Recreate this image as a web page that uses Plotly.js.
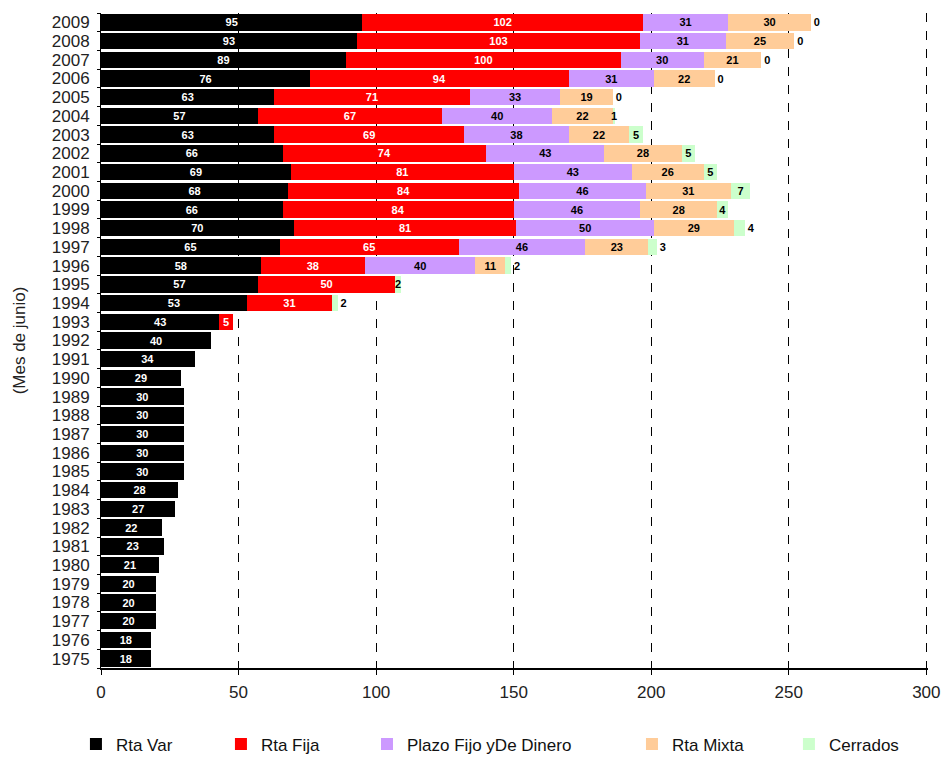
<!DOCTYPE html>
<html>
<head>
<meta charset="utf-8">
<script src="https://cdn.plot.ly/plotly-3.0.1.min.js"></script>
<style>html,body{margin:0;padding:0;background:#fff;}#chart{width:941px;height:758px;}</style>
</head>
<body>
<div id="chart"></div>
<script>
const years = [1975,1976,1977,1978,1979,1980,1981,1982,1983,1984,1985,1986,1987,1988,1989,1990,1991,1992,1993,1994,1995,1996,1997,1998,1999,2000,2001,2002,2003,2004,2005,2006,2007,2008,2009];
const rtaVar = [18,18,20,20,20,21,23,22,27,28,30,30,30,30,30,29,34,40,43,53,57,58,65,70,66,68,69,66,63,57,63,76,89,93,95];
const rtaFija = [null,null,null,null,null,null,null,null,null,null,null,null,null,null,null,null,null,null,5,31,50,38,65,81,84,84,81,74,69,67,71,94,100,103,102];
const plazoFijo = [null,null,null,null,null,null,null,null,null,null,null,null,null,null,null,null,null,null,null,null,null,40,46,50,46,46,43,43,38,40,33,31,30,31,31];
const rtaMixta = [null,null,null,null,null,null,null,null,null,null,null,null,null,null,null,null,null,null,null,null,null,11,23,29,28,31,26,28,22,22,19,22,21,25,30];
const cerrados = [null,null,null,null,null,null,null,null,null,null,null,null,null,null,null,null,null,null,null,2,2,2,3,4,4,7,5,5,5,1,0,0,0,0,0];
const seriesNames = ['Rta Var','Rta Fija','Plazo Fijo yDe Dinero','Rta Mixta','Cerrados'];
const xTicks = [0,50,100,150,200,250,300];

// label placement config (style, not data)
const cerradosOutsideYears = [1994,1996,1997,1998,2005,2006,2007,2008,2009];
const legendX = [0.0807, 0.2348, 0.3900, 0.6716, 0.8384];

const cats = years.map(String);
const colors = ['#000000','#FF0000','#CC99FF','#FFCC99','#CCFFCC'];
const textColors = ['#FFFFFF','#FFFFFF','#000000','#000000','#000000'];
const allSeries = [rtaVar, rtaFija, plazoFijo, rtaMixta, cerrados];
const FONT = 'Liberation Sans, Arial, sans-serif';
const legendIds = ['legend','legend2','legend3','legend4','legend5'];

const traces = allSeries.map((vals, i) => {
  const t = {
    type: 'bar',
    orientation: 'h',
    name: seriesNames[i],
    legend: legendIds[i],
    y: cats,
    x: vals,
    text: vals.map(v => v == null ? '' : String(v)),
    textposition: 'inside',
    insidetextanchor: 'middle',
    textangle: 0,
    constraintext: 'none',
    cliponaxis: false,
    textfont: {family: FONT, size: 11, color: textColors[i], weight: 'bold'},
    marker: {color: colors[i], line: {width: 0}},
    hoverinfo: 'x+y+name'
  };
  if (i === 4) {
    t.textposition = years.map(y => cerradosOutsideYears.includes(y) ? 'outside' : 'inside');
    t.outsidetextfont = {family: FONT, size: 11, color: '#000000', weight: 'bold'};
  }
  return t;
});

const layout = {
  width: 941,
  height: 758,
  barmode: 'stack',
  bargap: 0.12,
  paper_bgcolor: '#ffffff',
  plot_bgcolor: '#ffffff',
  font: {family: FONT, color: '#222'},
  margin: {l: 101, r: 13, t: 13, b: 90},
  showlegend: true,
  xaxis: {
    range: [0, 300.6],
    tickvals: xTicks,
    showgrid: true,
    gridcolor: '#000000',
    griddash: 'dash',
    gridwidth: 1,
    zeroline: false,
    showline: true,
    linecolor: '#000000',
    linewidth: 2,
    ticks: 'outside',
    ticklen: 5,
    tickcolor: '#000',
    ticklabelstandoff: 3,
    tickfont: {family: FONT, size: 17, color: '#222'},
    fixedrange: true
  },
  yaxis: {
    type: 'category',
    categoryorder: 'array',
    categoryarray: cats,
    tickmode: 'array',
    tickvals: cats,
    ticktext: cats,
    showline: true,
    linecolor: '#000000',
    linewidth: 1,
    ticks: 'outside',
    tickson: 'boundaries',
    ticklen: 3,
    tickcolor: '#000',
    ticklabelstandoff: 7,
    showgrid: false,
    tickfont: {family: FONT, size: 17, color: '#222'},
    automargin: false,
    title: {text: '(Mes de junio)', font: {family: FONT, size: 17, color: '#222'}, standoff: 21},
    fixedrange: true
  }
};

legendIds.forEach((id, i) => {
  layout[id] = {
    orientation: 'h',
    xref: 'container', yref: 'container',
    x: legendX[i], xanchor: 'left',
    y: 0.018, yanchor: 'middle',
    font: {family: FONT, size: 17, color: '#111'},
    itemwidth: 30,
    bgcolor: 'rgba(0,0,0,0)',
    borderwidth: 0
  };
});

Plotly.newPlot('chart', traces, layout, {displayModeBar: false, staticPlot: true});
</script>
</body>
</html>
